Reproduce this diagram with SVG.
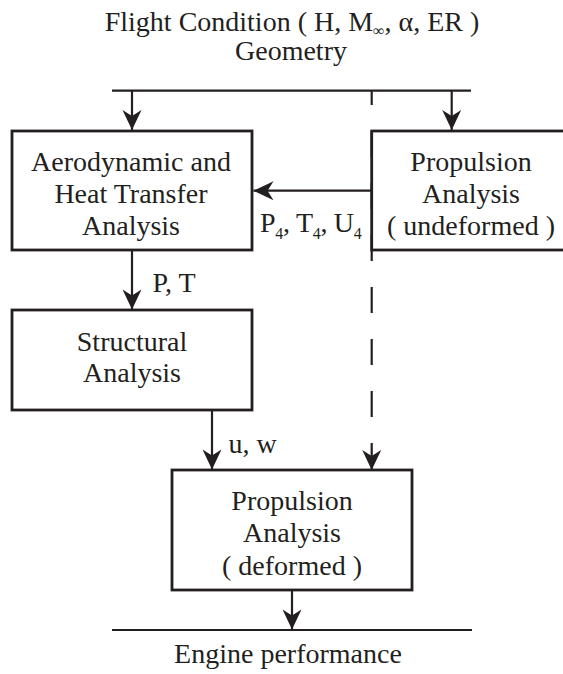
<svg xmlns="http://www.w3.org/2000/svg" width="563" height="674" viewBox="0 0 563 674">
<style>
text{font-family:"Liberation Serif","Times New Roman",serif;font-size:28px;fill:#231f20}
.c{text-anchor:middle}
.sub{font-size:16px}
.box{fill:#fff;stroke:#231f20;stroke-width:2.8}
.ln{fill:none;stroke:#231f20;stroke-width:2.2}
.dash{fill:none;stroke:#231f20;stroke-width:2.2;stroke-dasharray:26 26;stroke-dashoffset:11}
</style>
<defs>
<marker id="ah" markerUnits="userSpaceOnUse" markerWidth="22" markerHeight="22" viewBox="-21 -11 22 22" refX="0" refY="0" orient="auto">
<path d="M0,0 L-20,-9.5 L-14,0 L-20,9.5 Z" fill="#231f20"/>
</marker>
</defs>
<g id="title">
<text class="c" x="292" y="31">Flight Condition ( H, M<tspan class="sub" dy="5">∞</tspan><tspan dy="-5">, α, ER )</tspan></text>
<text class="c" x="291" y="60">Geometry</text>
</g>
<g id="connectors">
<line class="ln" x1="112" y1="90.7" x2="471" y2="90.7"/>
<line class="dash" x1="371.7" y1="90" x2="371.7" y2="470" marker-end="url(#ah)"/>
<line class="ln" x1="132" y1="90.7" x2="132" y2="130" marker-end="url(#ah)"/>
<line class="ln" x1="451.7" y1="90.7" x2="451.7" y2="130" marker-end="url(#ah)"/>
<line class="ln" x1="371.7" y1="190.7" x2="253.5" y2="190.7" marker-end="url(#ah)"/>
<line class="ln" x1="132" y1="250" x2="132" y2="309.5" marker-end="url(#ah)"/>
<line class="ln" x1="212" y1="410" x2="212" y2="469.5" marker-end="url(#ah)"/>
<line class="ln" x1="292" y1="590" x2="292" y2="629.5" marker-end="url(#ah)"/>
<line class="ln" x1="112" y1="630" x2="472" y2="630"/>
<text x="260" y="232" letter-spacing="-0.3">P<tspan class="sub" dy="7">4</tspan><tspan dy="-7">, T</tspan><tspan class="sub" dy="7">4</tspan><tspan dy="-7">, U</tspan><tspan class="sub" dy="7">4</tspan></text>
<text x="152.5" y="292">P, T</text>
<text x="228.5" y="453">u, w</text>
</g>
<g id="aero">
<rect class="box" x="12" y="131" width="240" height="119"/>
<text class="c" x="131" y="171">Aerodynamic and</text>
<text class="c" x="131" y="203">Heat Transfer</text>
<text class="c" x="131" y="235">Analysis</text>
</g>
<g id="prop-undeformed">
<rect class="box" x="371.7" y="131" width="210" height="119"/>
<text class="c" x="471" y="171">Propulsion</text>
<text class="c" x="471" y="203">Analysis</text>
<text class="c" x="471" y="235">( undeformed )</text>
</g>
<g id="structural">
<rect class="box" x="12" y="310" width="240" height="100"/>
<text class="c" x="132" y="351">Structural</text>
<text class="c" x="132" y="382">Analysis</text>
</g>
<g id="prop-deformed">
<rect class="box" x="172" y="470" width="240" height="120"/>
<text class="c" x="292" y="510">Propulsion</text>
<text class="c" x="292" y="542">Analysis</text>
<text class="c" x="292" y="575">( deformed )</text>
</g>
<g id="output">
<text class="c" x="288" y="663">Engine performance</text>
</g>
</svg>
